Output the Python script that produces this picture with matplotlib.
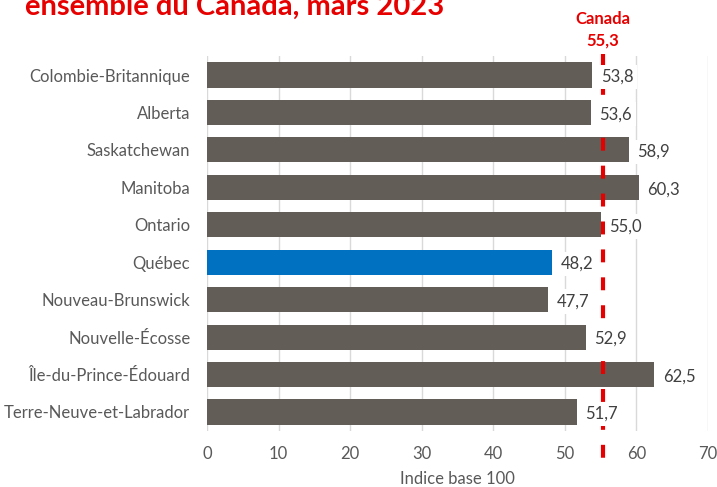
"""Indice base 100 par province, mars 2023."""

import matplotlib
matplotlib.use("Agg")
import matplotlib.pyplot as plt
import matplotlib.transforms as mtransforms

provinces = [
    "Colombie-Britannique", "Alberta", "Saskatchewan", "Manitoba", "Ontario",
    "Québec", "Nouveau-Brunswick", "Nouvelle-Écosse", "Île-du-Prince-Édouard",
    "Terre-Neuve-et-Labrador",
]
values = [53.8, 53.6, 58.9, 60.3, 55.0, 48.2, 47.7, 52.9, 62.5, 51.7]
canada = 55.3
highlight = "Québec"

GREY_BAR = "#625D57"
BLUE = "#0070C0"
RED = "#E60000"
TEXT = "#595959"

plt.rcParams["font.family"] = ["Lato", "DejaVu Sans"]

fig = plt.figure(figsize=(7.17, 4.87), dpi=100)
ax = fig.add_axes([0.2887, 0.1156, 0.6987, 0.7688])

ypos = range(len(provinces))
colors = [BLUE if p == highlight else GREY_BAR for p in provinces]
ax.barh(ypos, values, height=0.67, color=colors, zorder=2)
ax.set_ylim(len(provinces) - 0.5, -0.5)
ax.set_xlim(0, 70)

# value labels sit on a white box that hides the Canada line behind them
for y, v in zip(ypos, values):
    ax.text(v + 1.2, y + 0.05, f"{v:.1f}".replace(".", ","), va="center", ha="left",
            fontsize=12, color="#404040", zorder=4,
            bbox=dict(facecolor="white", edgecolor="none", pad=3))

# Canada reference line, running past the plot area
trans = mtransforms.blended_transform_factory(ax.transData, ax.transAxes)
ax.plot([canada, canada], [1.005, -0.092], transform=trans, color=RED, lw=3,
        dashes=(3.1, 3.6), clip_on=False, zorder=3)
ax.text(canada, 1.070, f"Canada\n{canada:.1f}".replace(".", ","), transform=trans,
        ha="center", va="center", color=RED, fontsize=12, fontweight="bold",
        linespacing=1.45)

ax.set_xticks(range(0, 71, 10))
ax.set_yticks(list(ypos))
ax.set_yticklabels(provinces)
ax.tick_params(axis="x", length=0, pad=11, labelsize=12, labelcolor=TEXT)
ax.tick_params(axis="y", length=0, pad=12, labelsize=12, labelcolor=TEXT)
ax.grid(axis="x", color="#D9D9D9", lw=1, zorder=0)
for s in ax.spines.values():
    s.set_visible(False)
ax.set_xlabel("Indice base 100", fontsize=12, color=TEXT)
ax.xaxis.set_label_coords(0.5, -0.108)

# title is partly above the top edge, as in the source image
fig.text(0.035, 0.969, "ensemble du Canada, mars 2023", color=RED, fontsize=21,
         fontweight="bold", ha="left", va="baseline")

plt.savefig("out.png", dpi=100)
plt.close()
